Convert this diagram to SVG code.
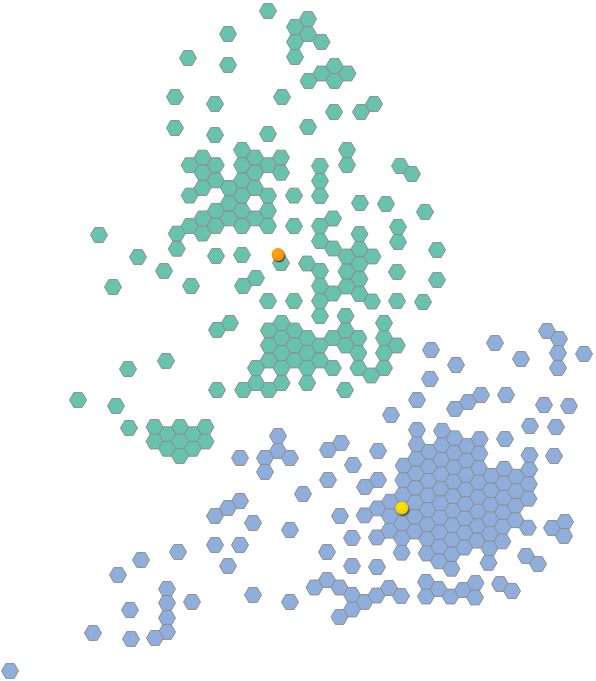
<svg xmlns="http://www.w3.org/2000/svg" width="596" height="681" viewBox="0 0 596 681">
<style>
.g use{fill:#67c3ad}
.b use{fill:#90aedc}
.h{stroke:#8a8f90;stroke-width:1}
</style>
<defs>
<polygon id="h" class="h" points="-8.5,0 -4.2,-7.4 4.2,-7.4 8.5,0 4.2,7.4 -4.2,7.4"/>
<radialGradient id="o" cx="0.4" cy="0.35" r="0.7"><stop offset="0" stop-color="#ffa91e"/><stop offset="1" stop-color="#f58a00"/></radialGradient>
<radialGradient id="y" cx="0.4" cy="0.35" r="0.7"><stop offset="0" stop-color="#ffe800"/><stop offset="1" stop-color="#eec800"/></radialGradient>
</defs>
<rect width="596" height="681" fill="#fff"/>
<g id="green" class="g">
<use href="#h" x="268" y="11"/><use href="#h" x="308" y="19"/><use href="#h" x="295" y="27"/><use href="#h" x="308" y="34"/><use href="#h" x="295" y="42"/><use href="#h" x="321.500" y="42"/><use href="#h" x="295" y="57"/><use href="#h" x="228" y="34"/><use href="#h" x="188" y="58"/><use href="#h" x="228" y="65"/>
<use href="#h" x="308.500" y="81"/><use href="#h" x="321.500" y="73.500"/><use href="#h" x="334.500" y="66"/><use href="#h" x="347.500" y="73.500"/><use href="#h" x="334.500" y="81"/><use href="#h" x="282" y="97"/>
<use href="#h" x="175" y="97"/><use href="#h" x="215" y="104"/><use href="#h" x="334" y="112"/><use href="#h" x="361" y="112"/><use href="#h" x="374" y="104"/><use href="#h" x="175" y="128"/><use href="#h" x="215" y="135"/><use href="#h" x="268" y="134"/><use href="#h" x="308" y="127"/><use href="#h" x="347" y="150"/><use href="#h" x="347" y="165"/>
<use href="#h" x="242" y="150"/><use href="#h" x="202.600" y="157.600"/><use href="#h" x="255" y="157.600"/><use href="#h" x="281" y="157.600"/><use href="#h" x="189.600" y="165.200"/><use href="#h" x="215.800" y="165.200"/><use href="#h" x="242" y="165.200"/><use href="#h" x="268" y="165.200"/><use href="#h" x="202.600" y="172.800"/><use href="#h" x="255" y="172.800"/><use href="#h" x="281" y="172.800"/><use href="#h" x="215.800" y="180.400"/><use href="#h" x="242" y="180.400"/><use href="#h" x="229" y="188"/><use href="#h" x="255" y="188"/><use href="#h" x="202.600" y="188"/><use href="#h" x="189.600" y="195.600"/><use href="#h" x="242" y="195.600"/><use href="#h" x="268" y="195.600"/><use href="#h" x="294" y="195.600"/><use href="#h" x="229" y="203.200"/><use href="#h" x="215.800" y="210.800"/><use href="#h" x="242" y="210.800"/><use href="#h" x="268" y="210.800"/><use href="#h" x="202.600" y="218.400"/><use href="#h" x="229" y="218.400"/><use href="#h" x="255" y="218.400"/><use href="#h" x="189.600" y="226"/><use href="#h" x="215.800" y="226"/><use href="#h" x="242" y="226"/><use href="#h" x="268" y="226"/><use href="#h" x="294" y="226"/><use href="#h" x="202.600" y="233.600"/><use href="#h" x="176.800" y="233.600"/><use href="#h" x="176.800" y="248.800"/><use href="#h" x="216" y="256"/><use href="#h" x="242" y="255"/><use href="#h" x="281" y="263"/>
<use href="#h" x="320" y="166"/><use href="#h" x="320" y="181"/><use href="#h" x="320" y="196"/><use href="#h" x="400" y="166"/><use href="#h" x="412" y="174"/><use href="#h" x="360" y="203"/><use href="#h" x="386" y="204"/><use href="#h" x="425" y="212"/><use href="#h" x="333" y="218.500"/><use href="#h" x="320" y="226"/><use href="#h" x="398" y="227"/><use href="#h" x="320" y="241"/><use href="#h" x="359.500" y="234"/><use href="#h" x="398" y="242"/><use href="#h" x="437" y="250"/><use href="#h" x="99" y="235"/><use href="#h" x="138" y="257"/><use href="#h" x="164" y="271"/><use href="#h" x="113" y="287"/><use href="#h" x="191" y="286"/>
<use href="#h" x="333" y="248.500"/><use href="#h" x="359.500" y="249"/><use href="#h" x="346.500" y="256.500"/><use href="#h" x="372.500" y="256.500"/><use href="#h" x="307" y="263.500"/><use href="#h" x="320" y="271"/><use href="#h" x="359.500" y="264"/><use href="#h" x="346.500" y="271.500"/><use href="#h" x="397" y="272"/><use href="#h" x="437" y="280"/><use href="#h" x="256" y="278"/><use href="#h" x="243" y="286"/><use href="#h" x="320" y="286"/><use href="#h" x="359.500" y="279"/><use href="#h" x="346.500" y="286.500"/><use href="#h" x="333" y="293.500"/><use href="#h" x="359.500" y="294"/><use href="#h" x="268" y="301"/><use href="#h" x="294" y="301"/><use href="#h" x="320" y="301"/><use href="#h" x="372" y="301.500"/><use href="#h" x="397" y="301"/><use href="#h" x="423" y="302"/><use href="#h" x="320" y="316"/>
<use href="#h" x="345.600" y="316"/><use href="#h" x="384" y="323"/><use href="#h" x="281.600" y="323"/><use href="#h" x="268.800" y="330.500"/><use href="#h" x="294.400" y="330.500"/><use href="#h" x="345.600" y="330.500"/><use href="#h" x="307.200" y="338"/><use href="#h" x="332.800" y="338"/><use href="#h" x="358.400" y="338"/><use href="#h" x="384" y="338"/><use href="#h" x="281.600" y="338"/><use href="#h" x="268.800" y="345.500"/><use href="#h" x="294.400" y="345.500"/><use href="#h" x="320" y="345.500"/><use href="#h" x="345.600" y="345.500"/><use href="#h" x="396.800" y="345.500"/><use href="#h" x="281.600" y="353"/><use href="#h" x="307.200" y="353"/><use href="#h" x="358.400" y="353"/><use href="#h" x="384" y="353"/><use href="#h" x="268.800" y="360.500"/><use href="#h" x="294.400" y="360.500"/><use href="#h" x="320" y="360.500"/><use href="#h" x="281.600" y="368"/><use href="#h" x="256" y="368"/><use href="#h" x="307.200" y="368"/><use href="#h" x="332.800" y="368"/><use href="#h" x="358.400" y="368"/><use href="#h" x="384" y="368"/><use href="#h" x="371.200" y="375.500"/><use href="#h" x="256" y="383"/><use href="#h" x="281.600" y="383"/><use href="#h" x="307.200" y="383"/><use href="#h" x="243.200" y="390"/><use href="#h" x="268.800" y="390"/><use href="#h" x="345" y="390"/><use href="#h" x="230" y="323"/><use href="#h" x="217" y="330"/>
<use href="#h" x="128" y="369"/><use href="#h" x="166" y="361"/><use href="#h" x="217" y="390"/><use href="#h" x="78" y="400"/><use href="#h" x="116" y="406"/><use href="#h" x="129" y="428"/><use href="#h" x="154.500" y="427"/><use href="#h" x="180" y="427"/><use href="#h" x="205.500" y="427"/><use href="#h" x="167.200" y="434.200"/><use href="#h" x="192.700" y="434.200"/><use href="#h" x="154.500" y="441.500"/><use href="#h" x="180" y="441.500"/><use href="#h" x="205.500" y="441.500"/><use href="#h" x="167.200" y="448.800"/><use href="#h" x="192.700" y="448.800"/><use href="#h" x="180" y="456"/>
</g>
<g id="blue" class="b">
<use href="#h" x="547" y="331"/><use href="#h" x="559" y="339"/><use href="#h" x="495" y="343"/><use href="#h" x="521" y="359"/><use href="#h" x="558" y="353"/><use href="#h" x="584" y="354"/><use href="#h" x="558" y="368"/><use href="#h" x="456" y="365"/><use href="#h" x="431" y="350"/><use href="#h" x="430" y="379"/><use href="#h" x="417" y="400"/><use href="#h" x="391" y="415"/><use href="#h" x="455" y="409"/><use href="#h" x="468" y="402"/><use href="#h" x="481" y="395"/><use href="#h" x="506" y="395"/><use href="#h" x="544" y="405"/><use href="#h" x="569" y="406"/><use href="#h" x="530" y="426"/><use href="#h" x="556" y="427"/><use href="#h" x="505" y="439"/><use href="#h" x="341" y="443"/><use href="#h" x="328" y="450"/><use href="#h" x="378" y="451"/><use href="#h" x="554" y="456"/><use href="#h" x="353" y="465"/><use href="#h" x="328" y="480"/><use href="#h" x="378" y="480"/><use href="#h" x="365" y="487"/>
<use href="#h" x="240" y="458"/><use href="#h" x="278" y="436"/><use href="#h" x="278" y="451"/><use href="#h" x="265" y="458"/><use href="#h" x="290" y="458"/><use href="#h" x="265" y="472"/><use href="#h" x="303" y="494"/><use href="#h" x="240" y="501"/><use href="#h" x="228" y="508"/><use href="#h" x="215" y="516"/><use href="#h" x="253" y="523"/><use href="#h" x="290" y="530"/><use href="#h" x="215" y="545"/><use href="#h" x="240" y="545"/><use href="#h" x="178" y="552"/><use href="#h" x="141" y="560"/><use href="#h" x="228" y="566"/><use href="#h" x="118" y="575"/>
<use href="#h" x="340" y="516"/><use href="#h" x="364.700" y="515.400"/><use href="#h" x="377.550" y="508.400"/><use href="#h" x="352" y="538"/><use href="#h" x="376.850" y="537.400"/><use href="#h" x="327" y="552"/><use href="#h" x="352" y="566"/><use href="#h" x="377" y="567"/>
<use href="#h" x="390.150" y="501.700"/><use href="#h" x="389.800" y="516.200"/><use href="#h" x="389.450" y="530.700"/>
<use href="#h" x="403.700" y="465.700"/><use href="#h" x="403.350" y="480.200"/><use href="#h" x="403" y="494.700"/><use href="#h" x="402.650" y="509.200"/><use href="#h" x="402.300" y="523.700"/><use href="#h" x="401.950" y="538.200"/><use href="#h" x="401.600" y="552.700"/>
<use href="#h" x="417" y="430"/><use href="#h" x="416.650" y="444.500"/><use href="#h" x="416.300" y="459"/><use href="#h" x="415.950" y="473.500"/><use href="#h" x="415.600" y="488"/><use href="#h" x="415.250" y="502.500"/><use href="#h" x="414.900" y="517"/><use href="#h" x="414.550" y="531.500"/>
<use href="#h" x="429.150" y="452"/><use href="#h" x="428.800" y="466.500"/><use href="#h" x="428.450" y="481"/><use href="#h" x="428.100" y="495.500"/><use href="#h" x="427.750" y="510"/><use href="#h" x="427.400" y="524.500"/><use href="#h" x="427.050" y="539"/><use href="#h" x="426.700" y="553.500"/>
<use href="#h" x="442.100" y="430.800"/><use href="#h" x="441.750" y="445.300"/><use href="#h" x="441.400" y="459.800"/><use href="#h" x="441.050" y="474.300"/><use href="#h" x="440.700" y="488.800"/><use href="#h" x="440.350" y="503.300"/><use href="#h" x="440" y="517.800"/><use href="#h" x="439.650" y="532.300"/><use href="#h" x="439.300" y="546.800"/><use href="#h" x="438.950" y="561.300"/>
<use href="#h" x="454.600" y="438.300"/><use href="#h" x="454.250" y="452.800"/><use href="#h" x="453.900" y="467.300"/><use href="#h" x="453.550" y="481.800"/><use href="#h" x="453.200" y="496.300"/><use href="#h" x="452.850" y="510.800"/><use href="#h" x="452.500" y="525.300"/><use href="#h" x="452.150" y="539.800"/><use href="#h" x="451.800" y="554.300"/><use href="#h" x="451.450" y="568.800"/>
<use href="#h" x="466.850" y="446.100"/><use href="#h" x="466.500" y="460.600"/><use href="#h" x="466.150" y="475.100"/><use href="#h" x="465.800" y="489.600"/><use href="#h" x="465.450" y="504.100"/><use href="#h" x="465.100" y="518.600"/><use href="#h" x="464.750" y="533.100"/><use href="#h" x="464.400" y="547.600"/>
<use href="#h" x="479.700" y="439.100"/><use href="#h" x="479.350" y="453.600"/><use href="#h" x="479" y="468.100"/><use href="#h" x="478.650" y="482.600"/><use href="#h" x="478.300" y="497.100"/><use href="#h" x="477.950" y="511.600"/><use href="#h" x="477.600" y="526.100"/><use href="#h" x="477.250" y="540.600"/>
<use href="#h" x="491.250" y="475.900"/><use href="#h" x="490.900" y="490.400"/><use href="#h" x="490.550" y="504.900"/><use href="#h" x="490.200" y="519.400"/><use href="#h" x="489.850" y="533.900"/><use href="#h" x="489.500" y="548.400"/><use href="#h" x="488.500" y="562.900"/>
<use href="#h" x="504.100" y="468.900"/><use href="#h" x="503.750" y="483.400"/><use href="#h" x="503.400" y="497.900"/><use href="#h" x="503.050" y="512.400"/><use href="#h" x="502.700" y="526.900"/><use href="#h" x="502.350" y="541.400"/>
<use href="#h" x="516.350" y="476.700"/><use href="#h" x="516" y="491.200"/><use href="#h" x="515.650" y="505.700"/><use href="#h" x="515.300" y="520.200"/>
<use href="#h" x="529.550" y="455.200"/><use href="#h" x="529.200" y="469.700"/><use href="#h" x="528.850" y="484.200"/><use href="#h" x="528.500" y="498.700"/><use href="#h" x="527.800" y="527.700"/><use href="#h" x="526" y="556"/><use href="#h" x="538" y="564"/><use href="#h" x="552" y="528"/><use href="#h" x="565" y="522"/><use href="#h" x="564" y="536"/>
<use href="#h" x="327" y="580"/><use href="#h" x="314.500" y="587.500"/><use href="#h" x="339.500" y="587.500"/><use href="#h" x="352" y="595"/><use href="#h" x="364.500" y="602"/><use href="#h" x="352" y="609.500"/><use href="#h" x="339.500" y="617"/><use href="#h" x="376.500" y="595.500"/><use href="#h" x="389" y="588"/><use href="#h" x="401" y="596"/><use href="#h" x="426" y="582"/><use href="#h" x="426" y="596.500"/><use href="#h" x="438.500" y="589"/><use href="#h" x="450.500" y="596.500"/><use href="#h" x="463" y="590"/><use href="#h" x="475.500" y="583"/><use href="#h" x="475" y="597.500"/><use href="#h" x="500" y="584"/><use href="#h" x="512" y="591"/>
<use href="#h" x="290" y="602"/><use href="#h" x="253" y="595"/><use href="#h" x="192" y="602"/><use href="#h" x="167" y="589"/><use href="#h" x="167" y="603"/><use href="#h" x="167" y="618"/><use href="#h" x="167" y="632"/><use href="#h" x="155" y="638"/><use href="#h" x="131" y="639"/><use href="#h" x="93" y="633"/><use href="#h" x="130" y="610"/><use href="#h" x="10" y="671"/>
</g>
<g id="markers">
<circle cx="279" cy="256" r="6.5" fill="#333" opacity="0.75"/>
<circle cx="278" cy="254.500" r="6.500" fill="url(#o)"/>
<circle cx="403" cy="509.500" r="6.500" fill="#333" opacity="0.75"/>
<circle cx="402" cy="508" r="6.500" fill="url(#y)"/>
</g>
</svg>
